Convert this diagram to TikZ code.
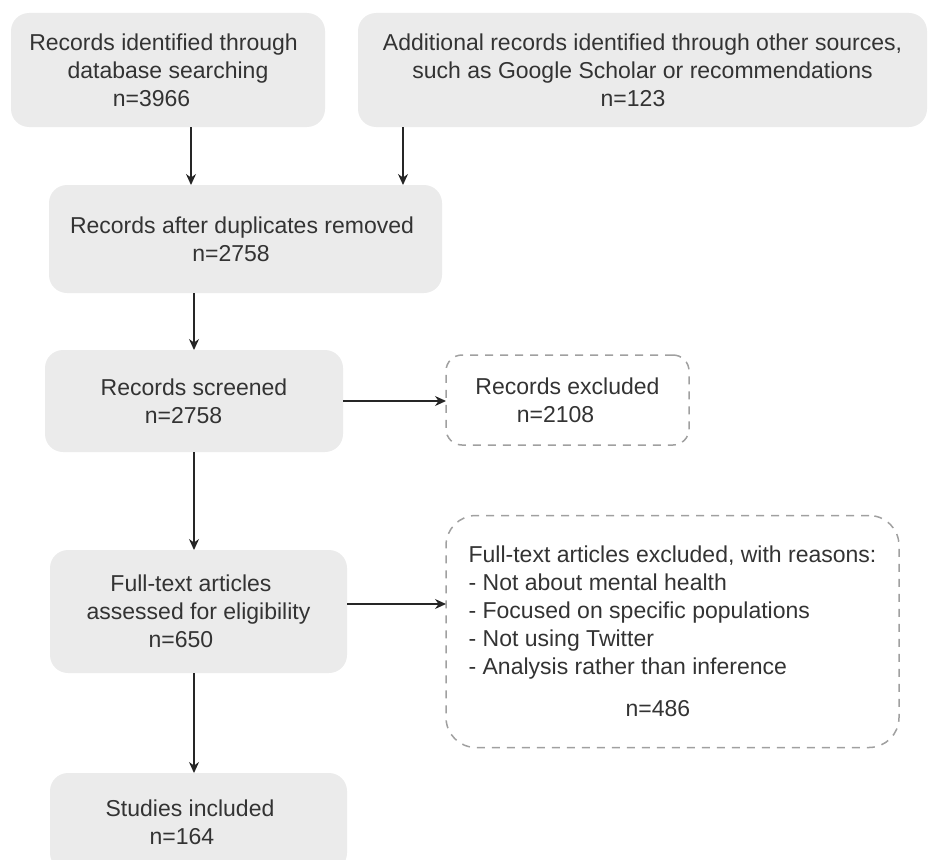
\documentclass[tikz,border=0pt]{standalone}
\usepackage{fontspec}
\setmainfont{Liberation Sans}
\usetikzlibrary{arrows.meta}
\definecolor{boxfill}{HTML}{EBEBEB}
\definecolor{txt}{HTML}{333333}
\definecolor{dashc}{HTML}{A0A0A0}
\definecolor{arr}{HTML}{262626}
\newcommand{\tr}[1]{\hspace*{#1pt}}
\begin{document}
\begin{tikzpicture}[x=1pt,y=-1pt,
  txtfont/.style={font=\fontsize{23}{28}\selectfont, text=txt},
  graybox/.style={rectangle, rounded corners=18pt, fill=boxfill, draw=none,
    align=center, inner sep=0pt, outer sep=0pt, txtfont},
  dashbox/.style={rectangle, draw=dashc, line width=1.5pt, dash pattern=on 8pt off 7pt,
    inner sep=0pt, outer sep=0pt, txtfont},
  flow/.style={draw=arr, line width=1.3pt, -{Stealth[length=11pt,width=10pt]}}]
\useasboundingbox (0,0) rectangle (928,859);
\clip (0,0) rectangle (928,859);

\node[graybox, minimum width=314pt, minimum height=114pt] (A) at (168,70)
  {Records identified through\tr{9}\\database searching\tr{10}\\n=3966\tr{33}};
\node[graybox, minimum width=569pt, minimum height=114pt] (B) at (642.5,70)
  {Additional records identified through other sources,\\such as Google Scholar or recommendations\\n=123\tr{19}};
\node[graybox, minimum width=393pt, minimum height=108pt] (C) at (245.5,239)
  {Records after duplicates removed\tr{7}\\n=2758\tr{29}};
\node[graybox, minimum width=298pt, minimum height=102pt] (D) at (194,401)
  {Records screened\\n=2758\tr{21}};
\node[dashbox, rounded corners=16pt, align=center, minimum width=243pt, minimum height=90pt] (E) at (567.5,400)
  {Records excluded\\n=2108\tr{24}};
\node[graybox, minimum width=297pt, minimum height=123pt] (F) at (198.5,611.5)
  {Full-text articles\tr{15}\\assessed for eligibility\tr{17}\\n=650\tr{35}};
\node[dashbox, rounded corners=30pt, align=left, minimum width=453pt, minimum height=232pt] (G) at (672.5,631.5)
  {Full-text articles excluded, with reasons:\\- Not about mental health\\- Focused on specific populations\\- Not using Twitter\\- Analysis rather than inference\\[14pt]\tr{157}n=486};
\node[graybox, minimum width=297pt, minimum height=98pt] (H) at (198.5,822)
  {Studies included\tr{17}\\n=164\tr{33}};

\draw[flow] ([xshift=23pt]A.south) -- ([xshift=23pt]A.south |- C.north);
\draw[flow] ([xshift=-239.5pt]B.south) -- ([xshift=-239.5pt]B.south |- C.north);
\draw[flow] (C.south -| D.north) -- (D.north);
\draw[flow] (D.east) -- (D.east -| E.west);
\draw[flow] (D.south) -- (D.south |- F.north);
\draw[flow] ([yshift=7.5pt]F.east) -- ([yshift=7.5pt]F.east -| G.west);
\draw[flow] ([xshift=-4.5pt]F.south) -- ([xshift=-4.5pt]F.south |- H.north);
\end{tikzpicture}
\end{document}
